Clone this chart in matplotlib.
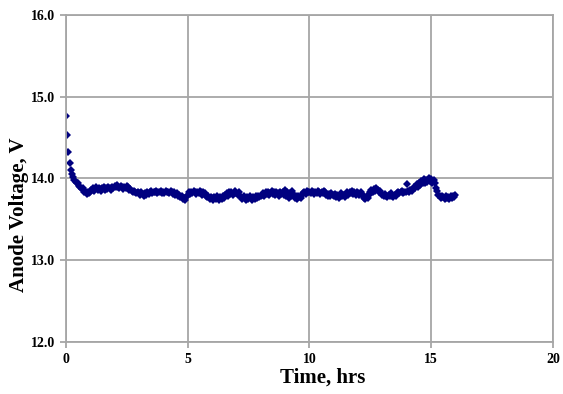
import numpy as np
import matplotlib
matplotlib.use("Agg")
import matplotlib.pyplot as plt

# anode voltage, one sample every 3 min (0.05 hr), one row per hour
sample_hr = 0.05
volts_by_hour = [
    [14.76, 14.53, 14.33, 14.19, 14.10, 14.06, 14.02, 13.98, 13.96, 13.94,
     13.95, 13.91, 13.90, 13.87, 13.88, 13.84, 13.85, 13.81, 13.83, 13.82],
    [13.84, 13.86, 13.88, 13.85, 13.87, 13.89, 13.86, 13.88, 13.87, 13.85,
     13.88, 13.89, 13.86, 13.88, 13.87, 13.89, 13.88, 13.86, 13.90, 13.88],
    [13.91, 13.89, 13.92, 13.90, 13.88, 13.91, 13.89, 13.87, 13.90, 13.88,
     13.91, 13.89, 13.86, 13.87, 13.85, 13.83, 13.85, 13.84, 13.82, 13.84],
    [13.82, 13.80, 13.83, 13.81, 13.79, 13.82, 13.80, 13.84, 13.81, 13.83,
     13.85, 13.82, 13.84, 13.83, 13.85, 13.82, 13.84, 13.83, 13.85, 13.82],
    [13.84, 13.82, 13.85, 13.83, 13.84, 13.82, 13.85, 13.83, 13.81, 13.84,
     13.80, 13.82, 13.79, 13.80, 13.77, 13.78, 13.75, 13.76, 13.74, 13.77],
    [13.80, 13.83, 13.81, 13.84, 13.82, 13.85, 13.83, 13.81, 13.84, 13.82,
     13.85, 13.83, 13.80, 13.84, 13.82, 13.79, 13.77, 13.78, 13.75, 13.77],
    [13.76, 13.74, 13.77, 13.75, 13.78, 13.76, 13.74, 13.77, 13.75, 13.78,
     13.76, 13.80, 13.82, 13.79, 13.83, 13.81, 13.84, 13.80, 13.82, 13.85],
    [13.82, 13.80, 13.83, 13.79, 13.77, 13.75, 13.78, 13.76, 13.74, 13.77,
     13.75, 13.78, 13.76, 13.74, 13.77, 13.75, 13.78, 13.76, 13.79, 13.77],
    [13.78, 13.80, 13.82, 13.79, 13.83, 13.81, 13.84, 13.80, 13.82, 13.85,
     13.81, 13.83, 13.80, 13.84, 13.82, 13.79, 13.83, 13.81, 13.84, 13.80],
    [13.86, 13.78, 13.84, 13.76, 13.82, 13.79, 13.85, 13.80, 13.76, 13.78,
     13.75, 13.79, 13.77, 13.76, 13.80, 13.82, 13.84, 13.81, 13.85, 13.83],
    [13.84, 13.82, 13.85, 13.83, 13.81, 13.84, 13.82, 13.85, 13.83, 13.81,
     13.84, 13.82, 13.85, 13.83, 13.80, 13.78, 13.81, 13.79, 13.82, 13.80],
    [13.78, 13.81, 13.77, 13.80, 13.76, 13.79, 13.82, 13.78, 13.80, 13.77,
     13.81, 13.83, 13.80, 13.84, 13.82, 13.85, 13.81, 13.83, 13.80, 13.84],
    [13.82, 13.80, 13.83, 13.81, 13.78, 13.76, 13.75, 13.78, 13.76, 13.80,
     13.84, 13.86, 13.84, 13.87, 13.85, 13.88, 13.86, 13.84, 13.85, 13.82],
    [13.80, 13.78, 13.81, 13.79, 13.77, 13.80, 13.78, 13.82, 13.79, 13.77,
     13.80, 13.78, 13.82, 13.84, 13.82, 13.83, 13.85, 13.82, 13.84, 13.83],
    [13.93, 13.85, 13.84, 13.86, 13.85, 13.87, 13.90, 13.88, 13.93, 13.90,
     13.95, 13.92, 13.97, 13.94, 13.99, 13.95, 13.98, 13.96, 14.00, 13.97],
    [13.99, 13.95, 13.98, 13.94, 13.88, 13.85, 13.80, 13.78, 13.76, 13.79,
     13.77, 13.75, 13.78, 13.76, 13.77, 13.75, 13.78, 13.76, 13.79, 13.77],
    [13.80],
]

volts = np.concatenate([np.array(r) for r in volts_by_hour])
hours = np.arange(len(volts)) * sample_hr

plt.rcParams["font.family"] = ["Liberation Serif", "DejaVu Serif"]
plt.rcParams["font.weight"] = "bold"

fig = plt.figure(figsize=(5.63, 3.94), dpi=100)
ax = fig.add_axes([0.117, 0.132, 0.865, 0.830])

ax.plot(hours, volts, linestyle="none", marker="D", markersize=4.5,
        color="#000080", markeredgewidth=0)

grey = "#a6a6a6"
ax.set_xlim(0, 20)
ax.set_ylim(12, 16)
ax.set_xticks([0, 5, 10, 15, 20])
ax.set_yticks([12, 13, 14, 15, 16])
ax.set_yticklabels(["12.0", "13.0", "14.0", "15.0", "16.0"])
ax.grid(True, color=grey, linewidth=1.3)
ax.set_axisbelow(True)
for s in ax.spines.values():
    s.set_color(grey)
    s.set_linewidth(1.3)
ax.tick_params(direction="out", length=4, width=1.3, color=grey,
               labelsize=10, pad=4)
for lab in ax.get_xticklabels() + ax.get_yticklabels():
    lab.set_fontweight("bold")

ax.set_xlabel("Time, hrs", fontsize=15, fontweight="bold")
ax.xaxis.set_label_coords(0.527, -0.078)
ax.set_ylabel("Anode Voltage, V", fontsize=15, fontweight="bold",
              va="center")
ax.yaxis.set_label_coords(-0.097, 0.39)

fig.savefig("out.png", dpi=100)
